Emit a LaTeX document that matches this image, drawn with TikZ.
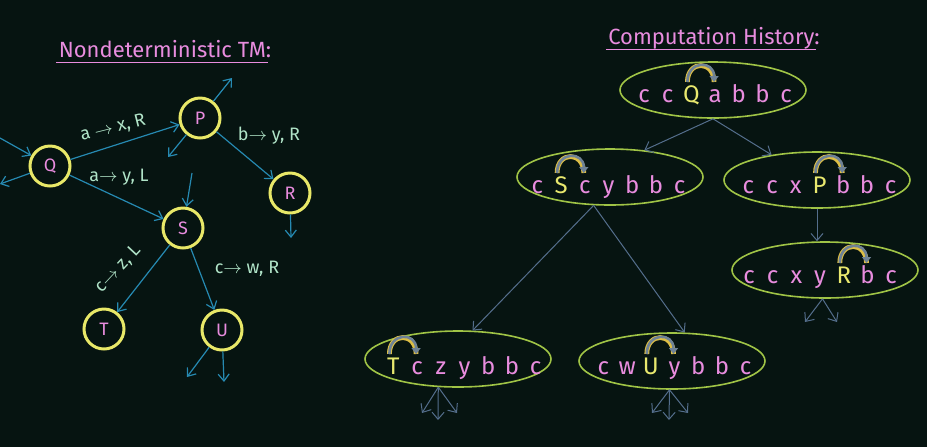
\documentclass[tikz,border=0pt]{standalone}
\usepackage{fontspec}
\setmainfont{Fira Sans}
\usetikzlibrary{shapes.geometric,arrows.meta,calc}

\definecolor{bg}{RGB}{6,20,17}
\definecolor{pinktxt}{RGB}{232,140,222}
\definecolor{ringcol}{RGB}{232,232,104}
\definecolor{edgecol}{RGB}{38,138,178}
\definecolor{lblcol}{RGB}{176,228,200}
\definecolor{tapecol}{RGB}{160,196,70}
\definecolor{linkcol}{RGB}{84,110,140}
\definecolor{headcol}{RGB}{232,232,110}
\definecolor{movecol}{RGB}{110,130,150}
\definecolor{moveedge}{RGB}{220,190,70}

% one tape configuration: #1 name prefix, #2 x of first cell, #3 baseline,
% #4 head position, #5 cell symbols
\newcommand\tapecells[5]{%
  \foreach \ch [count=\i] in {#5}{%
    \ifnum\i=#4\relax \def\cellcol{headcol}\else \def\cellcol{pinktxt}\fi
    \node[cell,text=\cellcol] (#1\i) at ({#2+(\i-1)*23.7},#3) {\ch};
  }%
}
% head movement arc from cell #1 to cell #2
\newcommand\headmove[2]{%
  \draw[line width=2.4pt,moveedge]
    ($(#1.base)+(-4,-20)$) .. controls +(0,-22) and +(0,-22) .. ($(#2.base)+(-1,-20)$);
  \draw[line width=1.3pt,movecol,-{Triangle[length=3pt,width=4.5pt]}]
    ($(#1.base)+(-4,-20)$) .. controls +(0,-22) and +(0,-22) .. ($(#2.base)+(-1,-20)$);
}

\begin{document}
\begin{tikzpicture}[x=0.5pt,y=-0.5pt,
  state/.style={circle,draw=ringcol,line width=1.5pt,minimum size=20pt,inner sep=0pt,
    text=pinktxt,font=\fontsize{9}{10}\selectfont},
  edge/.style={draw=edgecol,line width=0.6pt,-{Straight Barb[length=3.5pt,width=5.5pt]}},
  lbl/.style={text=lblcol,font=\fontsize{9}{10}\selectfont,inner sep=1pt},
  title/.style={text=pinktxt,font=\fontsize{11}{13}\selectfont,inner sep=1pt,anchor=base},
  tape/.style={ellipse,draw=tapecol,line width=0.8pt,minimum width=93pt,minimum height=28pt,inner sep=0pt},
  cell/.style={anchor=base,inner sep=0pt,font=\fontsize{12}{14}\selectfont},
  link/.style={draw=linkcol,line width=0.5pt,-{Straight Barb[length=3.5pt,width=6pt]}},
  uline/.style={draw=pinktxt,line width=0.7pt},
]
\fill[bg] (0,0) rectangle (927,447);
\useasboundingbox (0,0) rectangle (927,447);

% ---------------- nondeterministic machine ----------------
\node[title] (ttlA) at (165,57) {Nondeterministic TM:};
\draw[uline] ([yshift=-2.6pt]ttlA.base west) -- ([yshift=-2.6pt,xshift=-3pt]ttlA.base east);

\node[state] (Q) at (50,166) {Q};
\node[state] (P) at (200,118) {P};
\node[state] (R) at (290,193) {R};
\node[state] (S) at (183,228) {S};
\node[state] (T) at (104,329) {T};
\node[state] (U) at (222,330) {U};

\coordinate (qin)  at (0,138);
\coordinate (qout) at (0,184);
\coordinate (pout1) at (232,78);
\coordinate (pout2) at (168,157);
\coordinate (sin)  at (192,173);
\coordinate (rout) at (291,238);
\coordinate (uout1) at (187,377);
\coordinate (uout2) at (224,382);

\draw[edge] (qin) -- (Q);
\draw[edge] (Q) -- (qout);
\draw[edge] (Q) -- (P);
\draw[edge] (Q) -- (S);
\draw[edge] (P) -- (pout1);
\draw[edge] (P) -- (pout2);
\draw[edge] (P) -- (R);
\draw[edge] (sin) -- (S);
\draw[edge] (R) -- (rout);
\draw[edge] (S) -- (T);
\draw[edge] (S) -- (U);
\draw[edge] (U) -- (uout1);
\draw[edge] (U) -- (uout2);

\node[lbl,rotate=14] (lQP) at (113,128) {a $\rightarrow$ x, R};
\node[lbl] (lQS) at (119,177) {a$\rightarrow$ y, L};
\node[lbl] (lPR) at (269,136) {b$\rightarrow$ y, R};
\node[lbl,rotate=47] (lST) at (118,269) {c$\rightarrow$ z, L};
\node[lbl] (lSU) at (247,269) {c$\rightarrow$ w, R};

% ---------------- computation history ----------------
\node[title] (ttlB) at (714,44) {Computation History:};
\draw[uline] ([yshift=-2.6pt]ttlB.base west) -- ([yshift=-2.6pt,xshift=-3pt]ttlB.base east);

\node[tape] (e1) at (713,90)  {};
\node[tape] (e2) at (610,177) {};
\node[tape] (e3) at (817,180) {};
\node[tape] (e4) at (825,270) {};
\node[tape] (e5) at (458,359) {};
\node[tape] (e6) at (672,361) {};

\tapecells{ta}{644}{102}{3}{c,c,Q,a,b,b,c}
\tapecells{tb}{537.4}{193}{2}{c,S,c,y,b,b,c}
\tapecells{tc}{748.4}{193}{4}{c,c,x,P,b,b,c}
\tapecells{td}{749}{283}{5}{c,c,x,y,R,b,c}
\tapecells{te}{393.4}{374}{1}{T,c,z,y,b,b,c}
\tapecells{tf}{603.4}{374}{3}{c,w,U,y,b,b,c}

\headmove{ta3}{ta4}
\headmove{tb2}{tb3}
\headmove{tc4}{tc5}
\headmove{td5}{td6}
\headmove{te1}{te2}
\headmove{tf3}{tf4}

\draw[link] (e1.south) -- (e2.38);
\draw[link] (e1.south) -- (e3.151);
\draw[link] (e2.240) -- (e5.63);
\draw[link] (e2.240) -- (e6.66);
\draw[link] (e3.south) -- (e3.south |- e4.north);

\coordinate (f4l) at (805,322);
\coordinate (f4r) at (837,322);
\draw[link] (e4.265) -- (f4l);
\draw[link] (e4.265) -- (f4r);

\coordinate (f5l) at (422,413);
\coordinate (f5m) at (438,420);
\coordinate (f5r) at (457,413);
\draw[link] (e5.235) -- (f5l);
\draw[link] (e5.235) -- (f5m);
\draw[link] (e5.235) -- (f5r);

\coordinate (f6l) at (652,413);
\coordinate (f6m) at (669,420);
\coordinate (f6r) at (688,413);
\draw[link] (e6.265) -- (f6l);
\draw[link] (e6.265) -- (f6m);
\draw[link] (e6.265) -- (f6r);
\end{tikzpicture}
\end{document}
